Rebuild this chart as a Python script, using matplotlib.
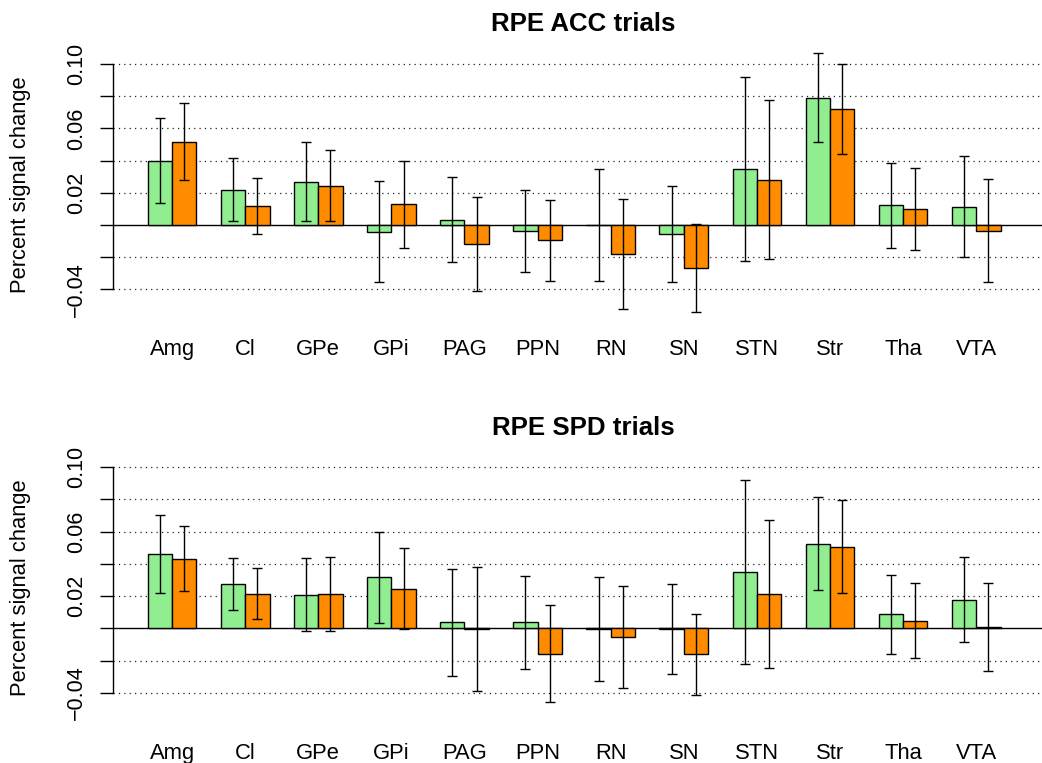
import matplotlib
matplotlib.use("Agg")
import matplotlib.pyplot as plt
import numpy as np

plt.rcParams['font.family'] = ['Liberation Sans', 'DejaVu Sans']

regions = ["Amg", "Cl", "GPe", "GPi", "PAG", "PPN", "RN", "SN", "STN", "Str", "Tha", "VTA"]

# RPE ACC trials
acc_green = [0.0400, 0.0219, 0.0269, -0.0041, 0.0033, -0.0037, 0.0000, -0.0054, 0.0350, 0.0791, 0.0124, 0.0114]
acc_green_err = [0.0263, 0.0196, 0.0245, 0.0315, 0.0265, 0.0252, 0.0348, 0.0298, 0.0572, 0.0278, 0.0264, 0.0313]
acc_orange = [0.0518, 0.0116, 0.0244, 0.0128, -0.0116, -0.0095, -0.0182, -0.0269, 0.0282, 0.0722, 0.0097, -0.0035]
acc_orange_err = [0.0241, 0.0175, 0.0222, 0.0268, 0.0291, 0.0251, 0.0342, 0.0273, 0.0494, 0.0281, 0.0255, 0.0322]

# RPE SPD trials
spd_green = [0.0462, 0.0277, 0.0209, 0.0317, 0.0037, 0.0037, -0.0006, -0.0006, 0.0348, 0.0526, 0.0087, 0.0178]
spd_green_err = [0.0242, 0.0162, 0.0228, 0.0281, 0.0333, 0.0290, 0.0323, 0.0279, 0.0571, 0.0288, 0.0247, 0.0262]
spd_orange = [0.0433, 0.0215, 0.0213, 0.0246, -0.0004, -0.0157, -0.0056, -0.0161, 0.0215, 0.0507, 0.0046, 0.0006]
spd_orange_err = [0.0202, 0.0160, 0.0228, 0.0250, 0.0386, 0.0300, 0.0316, 0.0251, 0.0459, 0.0287, 0.0233, 0.0273]

yticks = [-0.04, -0.02, 0.0, 0.02, 0.04, 0.06, 0.08, 0.10]
ylabels = ["\u22120.04", "", "", "0.02", "", "0.06", "", "0.10"]

W, H = 1042, 763
fig = plt.figure(figsize=(W / 100, H / 100), dpi=100)


def panel(top_px, title, green, green_err, orange, orange_err):
    # zero line sits 0.115*1610 px below the axes top
    ax = fig.add_axes([113 / W, 1 - (top_px + 289.8) / H, 940 / W, 289.8 / H])
    ax.set_xlim(-0.4226, 38.15)
    ax.set_ylim(-0.065, 0.115)

    for v in yticks:
        if v != 0:
            ax.axhline(v, color='#222222', lw=0.9, dashes=(1, 3.3), zorder=1)
    ax.axhline(0, color='black', lw=1, zorder=1)

    idx = np.arange(len(regions))
    xg = idx * 3 + 1.5
    xo = idx * 3 + 2.5
    ax.bar(xg, green, width=1, color='#90EE90', edgecolor='black', lw=1, zorder=2)
    ax.bar(xo, orange, width=1, color='#FF8C00', edgecolor='black', lw=1, zorder=2)
    ax.errorbar(xg, green, yerr=green_err, fmt='none', ecolor='black', elinewidth=1,
                capsize=3.6, capthick=1, zorder=3)
    ax.errorbar(xo, orange, yerr=orange_err, fmt='none', ecolor='black', elinewidth=1,
                capsize=3.6, capthick=1, zorder=3)

    for s in ['top', 'right', 'bottom']:
        ax.spines[s].set_visible(False)
    ax.spines['left'].set_bounds(-0.04, 0.10)
    ax.spines['left'].set_linewidth(1)

    ax.set_yticks(yticks)
    ax.set_yticklabels(ylabels, rotation=90, va='center', fontsize=15.5)
    ax.tick_params(axis='y', length=9.4, width=1, pad=9.5)

    ax.set_xticks(idx * 3 + 2)
    ax.set_xticklabels(regions, fontsize=15.8)
    ax.tick_params(axis='x', length=0, pad=7)

    fig.text(583 / W, 1 - (top_px - 15.5) / H, title, ha='center', va='center',
             fontsize=18.6, fontweight='bold')
    fig.text(21 / W, 1 - (top_px + 145) / H, "Percent signal change", rotation=90,
             ha='center', va='center', fontsize=15.8)
    return ax


panel(39.85, "RPE ACC trials", acc_green, acc_green_err, acc_orange, acc_orange_err)
panel(443.15, "RPE SPD trials", spd_green, spd_green_err, spd_orange, spd_orange_err)

fig.savefig("out.png", dpi=100)
